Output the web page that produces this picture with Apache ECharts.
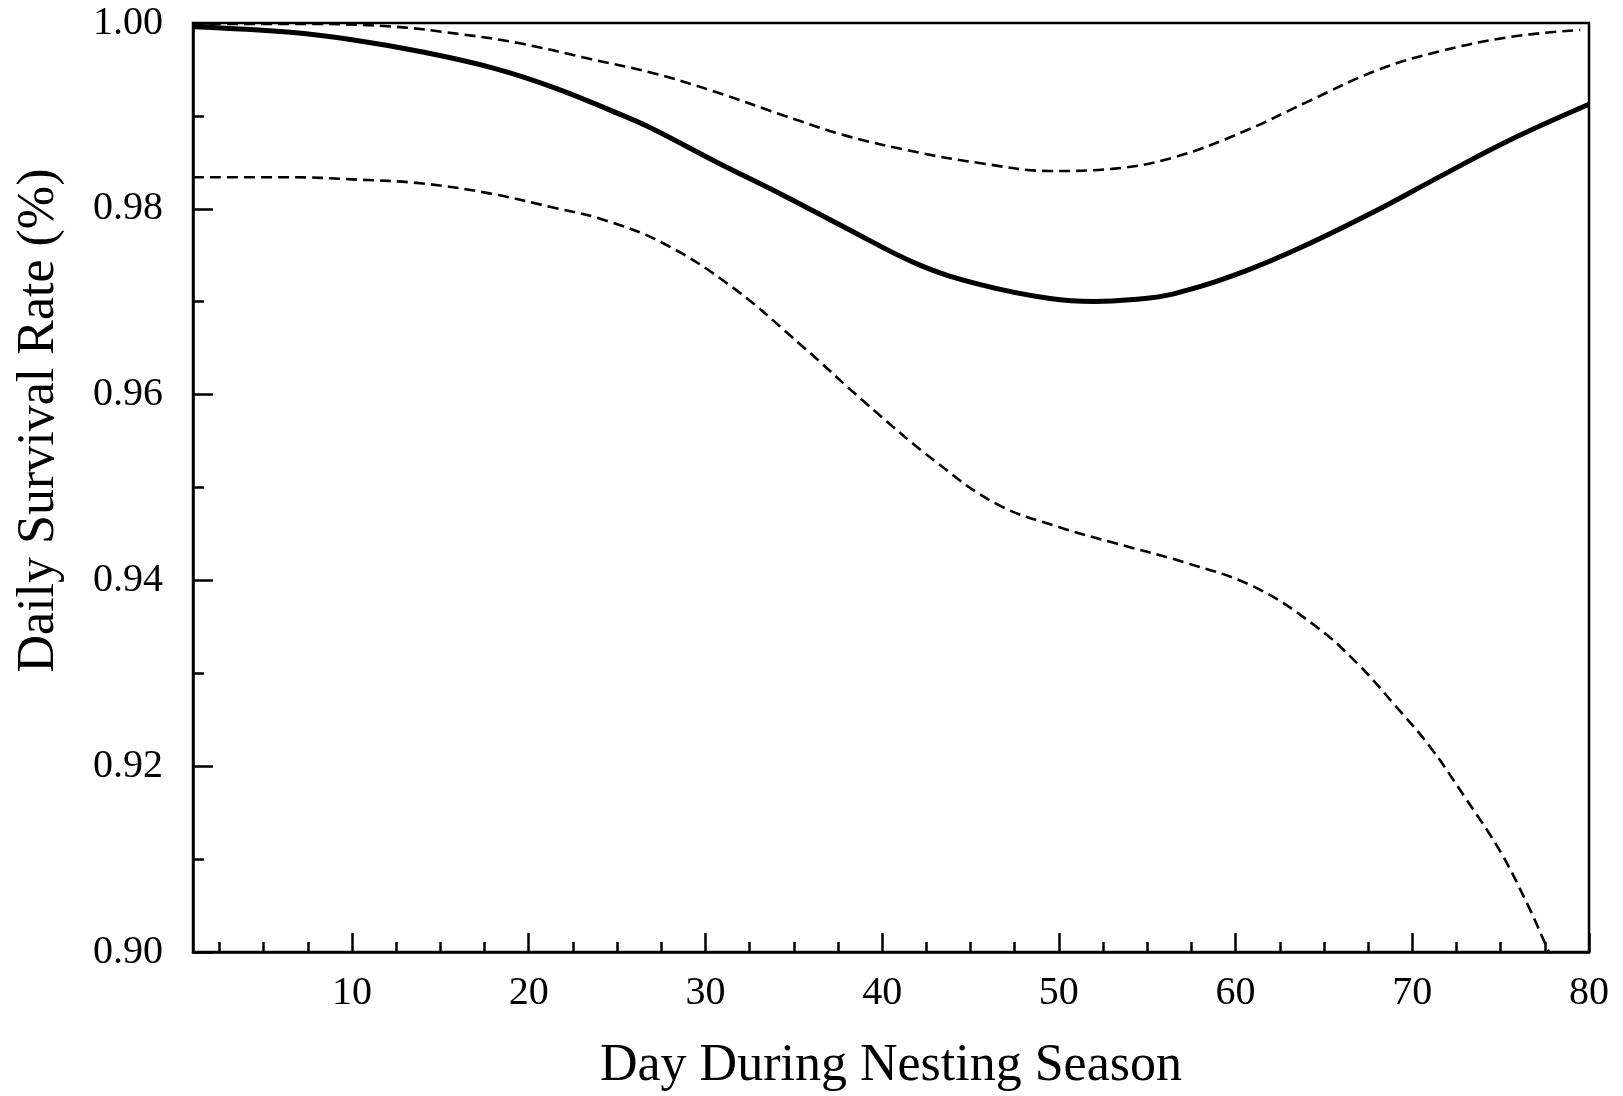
<!DOCTYPE html>
<html>
<head>
<meta charset="utf-8">
<script src="https://cdn.jsdelivr.net/npm/echarts@6/dist/echarts.min.js"></script>
<style>
  html, body { margin: 0; padding: 0; background: #fff; }
  #chart { width: 1623px; height: 1096px; }
</style>
</head>
<body>
<div id="chart"></div>
<script>
// ---- data ----
const estimateDays = [1, 6.5, 10, 14, 18, 21.5, 25, 27, 30.5, 34.5, 38, 42, 45.5, 49.5, 52, 54, 56.5, 60.5, 64, 68, 71.5, 75.5, 80];
const estimate = [0.9996, 0.9990, 0.9982, 0.99688, 0.99515, 0.9930, 0.9903, 0.98862, 0.98515, 0.98136, 0.97789, 0.97405, 0.97187, 0.97034, 0.97002, 0.9702, 0.97085, 0.97327, 0.9761, 0.97984, 0.98341, 0.98738, 0.99125];

const upperDays = [1, 6.5, 12, 16, 19.5, 23.5, 27, 30.5, 34.5, 38, 42, 45.5, 49.5, 53, 56.5, 60.5, 64, 68, 71.5, 75.5, 79.5];
const upperCI = [0.9999, 0.9999, 0.99965, 0.99883, 0.99781, 0.99612, 0.99462, 0.99263, 0.99, 0.98785, 0.98608, 0.98493, 0.98407, 0.9843, 0.98553, 0.98835, 0.99146, 0.99491, 0.99693, 0.99849, 0.99925];

const lowerDays = [1, 6.5, 10, 14, 18, 21.5, 24, 27.5, 31.5, 35.5, 39, 43, 46.5, 50, 53, 57, 61, 64.5, 67, 69, 71, 73, 75, 76.5, 77.5, 78];
const lowerCI = [0.9834, 0.9834, 0.98317, 0.98272, 0.98158, 0.98008, 0.97895, 0.9764, 0.97159, 0.96518, 0.9592, 0.95282, 0.9482, 0.94575, 0.9441, 0.942, 0.93935, 0.93512, 0.93085, 0.9266, 0.9221, 0.9166, 0.91075, 0.9052, 0.901, 0.8988];

const xMajorTicks = [10, 20, 30, 40, 50, 60, 70, 80];
const xMinorTicks = [2.5, 5, 7.5, 12.5, 15, 17.5, 22.5, 25, 27.5, 32.5, 35, 37.5, 42.5, 45, 47.5, 52.5, 55, 57.5, 62.5, 65, 67.5, 72.5, 75, 77.5];
const yMajorTicks = [0.90, 0.92, 0.94, 0.96, 0.98, 1.00];
const yMinorTicks = [0.91, 0.93, 0.95, 0.97, 0.99];

const xTitle = 'Day During Nesting Season';
const yTitle = 'Daily Survival Rate (%)';

function pairs(xs, ys) { return xs.map((x, i) => [x, ys[i]]); }

const FONT = '"Liberation Serif", "Times New Roman", serif';
const chart = echarts.init(document.getElementById('chart'), null, { renderer: 'canvas' });

const axisLineStyle = { color: '#000', width: 2.5 };

chart.setOption({
  animation: false,
  backgroundColor: '#fff',
  grid: {
    left: 193, right: 34, top: 23, bottom: 144,
    outerBoundsMode: 'none', containLabel: false,
    show: true, borderColor: '#000', borderWidth: 2.5, backgroundColor: 'transparent'
  },
  xAxis: [
    {
      type: 'value', min: 1, max: 80, position: 'bottom',
      name: xTitle, nameLocation: 'middle', nameGap: 88,
      nameTextStyle: { fontFamily: FONT, fontSize: 52, color: '#000' },
      axisLine: { show: true, onZero: false, lineStyle: axisLineStyle },
      axisTick: { show: true, inside: true, length: 19, customValues: xMajorTicks, lineStyle: { color: '#000', width: 2.5 } },
      axisLabel: { show: true, customValues: xMajorTicks, margin: 21, fontFamily: FONT, fontSize: 40, color: '#000' },
      splitLine: { show: false }
    },
    {
      type: 'value', min: 1, max: 80, position: 'bottom',
      axisLine: { show: false, onZero: false },
      axisTick: { show: true, inside: true, length: 10, customValues: xMinorTicks, lineStyle: { color: '#000', width: 2.5 } },
      axisLabel: { show: false },
      splitLine: { show: false }
    }
  ],
  yAxis: [
    {
      type: 'value', min: 0.9, max: 1.0, position: 'left',
      name: yTitle, nameLocation: 'middle', nameGap: 128, nameRotate: 90,
      nameTextStyle: { fontFamily: FONT, fontSize: 52, color: '#000', padding: [0, 0, 0, 134] },
      axisLine: { show: true, onZero: false, lineStyle: axisLineStyle },
      axisTick: { show: true, inside: true, length: 20, customValues: yMajorTicks, lineStyle: { color: '#000', width: 2.5 } },
      axisLabel: { show: true, customValues: yMajorTicks, margin: 30, fontFamily: FONT, fontSize: 40, color: '#000',
        formatter: v => Number(v).toFixed(2) },
      splitLine: { show: false }
    },
    {
      type: 'value', min: 0.9, max: 1.0, position: 'left',
      axisLine: { show: false, onZero: false },
      axisTick: { show: true, inside: true, length: 11, customValues: yMinorTicks, lineStyle: { color: '#000', width: 2.5 } },
      axisLabel: { show: false },
      splitLine: { show: false }
    }
  ],
  series: [
    {
      name: 'Upper 95% CI', type: 'line', xAxisIndex: 0, yAxisIndex: 0,
      data: pairs(upperDays, upperCI), smooth: 0.4, showSymbol: false, symbol: 'none',
      clip: true,
      lineStyle: { color: '#000', width: 2.6, type: [11, 6] }
    },
    {
      name: 'Lower 95% CI', type: 'line', xAxisIndex: 0, yAxisIndex: 0,
      data: pairs(lowerDays, lowerCI), smooth: 0.4, showSymbol: false, symbol: 'none',
      clip: true,
      lineStyle: { color: '#000', width: 2.6, type: [11, 6] }
    },
    {
      name: 'DSR', type: 'line', xAxisIndex: 0, yAxisIndex: 0,
      data: pairs(estimateDays, estimate), smooth: 0.4, showSymbol: false, symbol: 'none',
      clip: true,
      lineStyle: { color: '#000', width: 5 }
    }
  ]
});
</script>
</body>
</html>
